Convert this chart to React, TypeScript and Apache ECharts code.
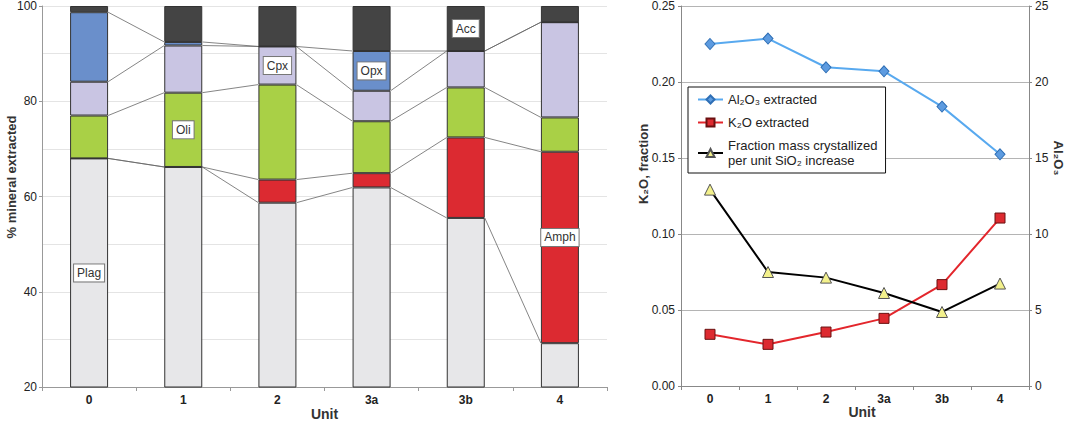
import React, { useEffect, useRef } from "react";
import * as echarts from "echarts";

const units = ["0", "1", "2", "3a", "3b", "4"];
const minerals = ["Plag", "Amph", "Oli", "Cpx", "Opx", "Acc"];
const plag = [68.0, 66.2, 58.7, 61.9, 55.5, 29.2];
const amph = [0, 0, 4.85, 3.0, 16.9, 40.2];
const oli = [9.0, 15.6, 19.95, 10.9, 10.5, 7.2];
const cpx = [7.1, 9.9, 8.0, 6.4, 7.65, 20.0];
const opx = [14.6, 0.75, 0, 8.35, 0, 0];
const acc = [1.3, 7.55, 8.5, 9.45, 9.45, 3.4];
// which unit carries the mineral's label
const labelUnit = [0, 5, 1, 2, 3, 4];

const al2o3 = [22.5, 22.86, 20.97, 20.7, 18.38, 15.24];
const k2o = [0.034, 0.0274, 0.0355, 0.0445, 0.0667, 0.1105];
const fracMass = [0.1292, 0.075, 0.0713, 0.0612, 0.0487, 0.0674];

const leftTicks = [20, 40, 60, 80, 100];

const FONT = '"Liberation Sans", Arial, Helvetica, sans-serif';
const BAR_W = 38;

export default function App() {
  const ref = useRef<HTMLDivElement>(null);
  useEffect(() => {
    if (!ref.current) return;
    const chart = echarts.init(ref.current, undefined, { renderer: "svg" });
    const stacks = [plag, amph, oli, cpx, opx, acc];
    const colors = ["#e7e7e9", "#dc2a31", "#a9d046", "#c9c5e3", "#6a8fcb", "#444444"];

    // cumulative tops
    const cum: number[][] = [];
    stacks.forEach((arr, k) => {
      cum.push(arr.map((v, i) => v + (k > 0 ? cum[k - 1][i] : 0)));
    });
    const seriesLines: number[][] = [];
    for (let k = 0; k < 5; k++) {
      for (let i = 0; i < units.length - 1; i++) {
        seriesLines.push([i, cum[k][i], cum[k][i + 1]]);
      }
    }

    const barSeries = stacks.map((arr, k) => ({
      type: "bar",
      name: minerals[k],
      stack: "m",
      xAxisIndex: 0,
      yAxisIndex: 0,
      barWidth: BAR_W,
      itemStyle: { color: colors[k], borderColor: "#333", borderWidth: 1 },
      label: {
        show: false,
        position: "inside",
        formatter: "{a}",
        fontSize: 12,
        fontFamily: FONT,
        color: "#333",
        backgroundColor: "#fff",
        borderColor: "#777",
        borderWidth: 1,
        padding: [3, 3, 2, 3],
        offset: minerals[k] === "Amph" ? [0, -10] : [0, 0],
      },
      emphasis: { disabled: true },
      data: arr.map((v, i) => (i === labelUnit[k] ? { value: v, label: { show: true } } : v)),
    }));

    const option: any = {
      animation: false,
      textStyle: { fontFamily: FONT },
      grid: [
        { left: 42, top: 6, right: 458, bottom: 35, outerBoundsMode: "none", containLabel: false },
        { left: 681, top: 6, right: 36, bottom: 36, outerBoundsMode: "none", containLabel: false },
      ],
      xAxis: [
        {
          type: "category",
          gridIndex: 0,
          data: units,
          axisLine: { lineStyle: { color: "#999" } },
          axisTick: { show: true, length: 4, lineStyle: { color: "#999" } },
          axisLabel: { fontWeight: "bold", fontSize: 12, color: "#222", margin: 7 },
          name: "Unit",
          nameLocation: "middle",
          nameGap: 20,
          nameMoveOverlap: false,
          nameTextStyle: { fontWeight: "bold", fontSize: 14, color: "#333" },
        },
        {
          type: "category",
          gridIndex: 1,
          data: units,
          axisLine: { lineStyle: { color: "#888" } },
          axisTick: { show: true, length: 4, lineStyle: { color: "#888" } },
          axisLabel: { fontWeight: "bold", fontSize: 12, color: "#222", margin: 7 },
        },
      ],
      yAxis: [
        {
          type: "value",
          gridIndex: 0,
          min: leftTicks[0],
          max: leftTicks[leftTicks.length - 1],
          interval: 20,
          axisLine: { show: true, lineStyle: { color: "#999" } },
          axisTick: { show: true, length: 3, lineStyle: { color: "#999" } },
          axisLabel: { fontSize: 12, color: "#222", margin: 5 },
          splitLine: { show: true, lineStyle: { color: "#e4e4e4" } },
          minorSplitLine: { show: true, lineStyle: { color: "#e4e4e4" } },
          minorTick: { show: false, splitNumber: 2 },
        },
        {
          type: "value",
          gridIndex: 1,
          min: 0,
          max: 0.25,
          interval: 0.05,
          axisLine: { show: true, lineStyle: { color: "#888" } },
          axisTick: { show: true, length: 3, lineStyle: { color: "#888" } },
          axisLabel: { fontSize: 12, color: "#222", margin: 6, formatter: (v: number) => v.toFixed(2) },
          splitLine: { show: true, lineStyle: { color: "#b4b4b4" } },
        },
        {
          type: "value",
          gridIndex: 1,
          position: "right",
          min: 0,
          max: 25,
          interval: 5,
          axisLine: { show: true, lineStyle: { color: "#888" } },
          axisTick: { show: true, length: 3, lineStyle: { color: "#888" } },
          axisLabel: { fontSize: 12, color: "#222", margin: 6 },
          splitLine: { show: false },
        },
      ],
      legend: {
        data: ["Al₂O₃ extracted", "K₂O extracted", "Fraction mass crystallized\nper unit SiO₂ increase"],
        orient: "vertical",
        left: 688,
        top: 87,
        padding: [5, 8, 5, 9],
        itemGap: 8,
        itemWidth: 25,
        itemHeight: 10,
        backgroundColor: "#fff",
        borderColor: "#111",
        borderWidth: 1,
        selectedMode: false,
        textStyle: { fontSize: 13, color: "#222", lineHeight: 15 },
      },
      series: [
        ...barSeries,
        {
          type: "custom",
          name: "series lines",
          xAxisIndex: 0,
          yAxisIndex: 0,
          silent: true,
          data: seriesLines,
          renderItem: (params: any, api: any) => {
            const i = api.value(0);
            const a = api.coord([i, api.value(1)]);
            const b = api.coord([i + 1, api.value(2)]);
            return {
              type: "line",
              shape: { x1: a[0] + BAR_W / 2, y1: a[1], x2: b[0] - BAR_W / 2, y2: b[1] },
              style: { stroke: "#666", lineWidth: 0.8 },
            };
          },
        },
        {
          type: "line",
          name: "Al₂O₃ extracted",
          xAxisIndex: 1,
          yAxisIndex: 2,
          data: al2o3,
          symbol: "diamond",
          symbolSize: [10, 11],
          lineStyle: { color: "#58a9ef", width: 2 },
          itemStyle: { color: "#5d9be0", borderColor: "#2f6fb5", borderWidth: 1 },
          emphasis: { disabled: true },
        },
        {
          type: "line",
          name: "K₂O extracted",
          xAxisIndex: 1,
          yAxisIndex: 1,
          data: k2o,
          symbol: "rect",
          symbolSize: 10,
          lineStyle: { color: "#e3262c", width: 2 },
          itemStyle: { color: "#dd2a30", borderColor: "#6a1010", borderWidth: 1 },
          emphasis: { disabled: true },
        },
        {
          type: "line",
          name: "Fraction mass crystallized\nper unit SiO₂ increase",
          xAxisIndex: 1,
          yAxisIndex: 1,
          data: fracMass,
          symbol: "triangle",
          symbolSize: 11,
          lineStyle: { color: "#000", width: 2 },
          itemStyle: { color: "#f3f18c", borderColor: "#555", borderWidth: 1 },
          emphasis: { disabled: true },
        },
      ],
      graphic: [
        {
          type: "text",
          x: 11,
          y: 177,
          rotation: Math.PI / 2,
          style: {
            text: "% mineral extracted",
            font: `bold 13px ${FONT}`,
            fill: "#333",
            textAlign: "center",
            textVerticalAlign: "middle",
          },
        },
        {
          type: "text",
          x: 643,
          y: 164,
          rotation: Math.PI / 2,
          style: {
            text: "K₂O, fraction",
            font: `bold 13px ${FONT}`,
            fill: "#333",
            textAlign: "center",
            textVerticalAlign: "middle",
          },
        },
        {
          type: "text",
          x: 1058,
          y: 158,
          rotation: -Math.PI / 2,
          style: {
            text: "Al₂O₃",
            font: `bold 13px ${FONT}`,
            fill: "#333",
            textAlign: "center",
            textVerticalAlign: "middle",
          },
        },
        {
          type: "text",
          x: 862,
          y: 412,
          style: {
            text: "Unit",
            font: `bold 14px ${FONT}`,
            fill: "#333",
            textAlign: "center",
            textVerticalAlign: "middle",
          },
        },
      ],
    };
    chart.setOption(option);
    return () => chart.dispose();
  }, []);
  return (
    <div
      ref={ref}
      style={{ position: "fixed", left: 0, top: 0, width: 1065, height: 422, background: "#fff" }}
    />
  );
}
